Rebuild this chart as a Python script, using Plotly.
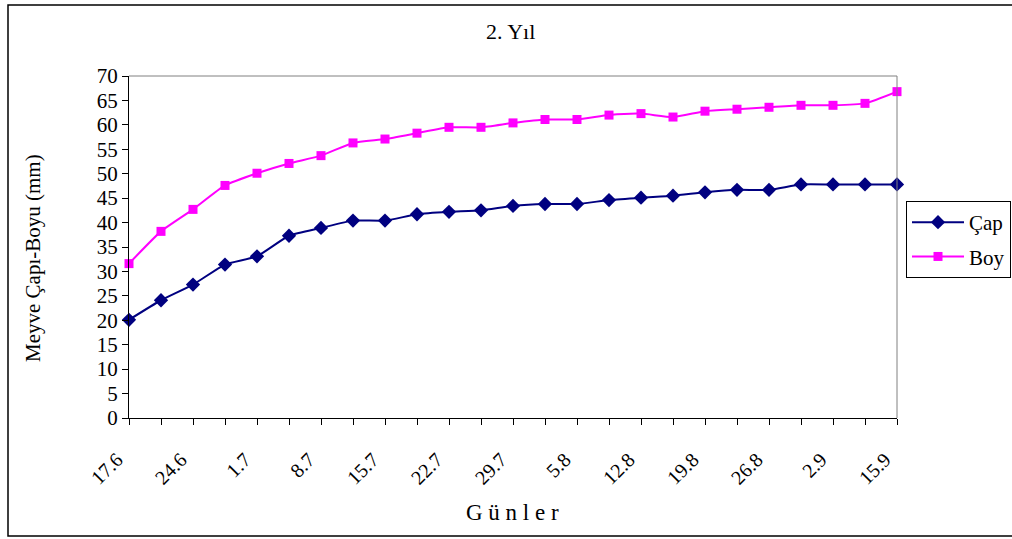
import plotly.graph_objects as go

# --- data ---
tick_labels = ["17.6", "", "24.6", "", "1.7", "", "8.7", "", "15.7", "", "22.7", "", "29.7",
               "", "5.8", "", "12.8", "", "19.8", "", "26.8", "", "2.9", "", "15.9"]
cap = [20.1, 24.1, 27.3, 31.4, 33.1, 37.3, 38.9, 40.4, 40.4, 41.7, 42.2, 42.5, 43.4,
       43.8, 43.8, 44.6, 45.1, 45.5, 46.2, 46.7, 46.7, 47.8, 47.8, 47.8, 47.8]
boy = [31.6, 38.2, 42.7, 47.6, 50.1, 52.1, 53.7, 56.3, 57.1, 58.3, 59.5, 59.5, 60.4,
       61.1, 61.1, 62.0, 62.3, 61.6, 62.8, 63.2, 63.6, 64.0, 64.0, 64.4, 66.8]
x_idx = list(range(len(tick_labels)))

FONT = "Liberation Serif, Times New Roman, serif"

fig = go.Figure()
fig.add_trace(go.Scatter(
    x=x_idx, y=cap, name="Çap", mode="lines+markers", legendgroup="a",
    line=dict(color="#000080", width=2, shape="spline", smoothing=0.5),
    marker=dict(symbol="diamond", size=11, color="#000080"),
    cliponaxis=False))
fig.add_trace(go.Scatter(
    x=x_idx, y=boy, name="Boy", mode="lines+markers", legendgroup="b",
    line=dict(color="#FF00FF", width=2, shape="spline", smoothing=0.5),
    marker=dict(symbol="square", size=9, color="#FF00FF"),
    cliponaxis=False))

W, H = 1012, 539
L, R, T, B = 129, 897, 76, 418

def px2x(px):
    return (px - L) / (R - L)

def py2y(py):
    return (B - py) / (B - T)

fig.update_layout(
    width=W, height=H,
    margin=dict(l=L, r=W - R, t=T, b=H - B, autoexpand=False),
    paper_bgcolor="white", plot_bgcolor="white",
    font=dict(family=FONT, size=21, color="black"),
    showlegend=True,
    legend=dict(x=px2x(906), y=py2y(201), xanchor="left", yanchor="top",
                bordercolor="black", borderwidth=1, bgcolor="white",
                font=dict(family=FONT, size=21), itemwidth=52,
                tracegroupgap=4),
    xaxis=dict(range=[0, len(x_idx) - 1], tickmode="array", tickvals=x_idx,
               ticktext=tick_labels, tickangle=-45, ticks="outside", ticklen=6,
               tickcolor="black", showline=True, linecolor="black", linewidth=1,
               showgrid=False, zeroline=False,
               ticklabelstandoff=15, ticklabelshift=-12,
               tickfont=dict(family=FONT, size=20)),
    yaxis=dict(range=[0, 70], dtick=5, ticks="outside", ticklen=6, tickcolor="black",
               showline=True, linecolor="black", linewidth=1, showgrid=False,
               zeroline=False, tickfont=dict(family=FONT, size=21)),
)

# plot area top/right border (gray)
fig.add_shape(type="line", xref="paper", yref="paper", x0=0, x1=1, y0=1, y1=1,
              line=dict(color="#808080", width=1))
fig.add_shape(type="line", xref="paper", yref="paper", x0=1, x1=1, y0=0, y1=1,
              line=dict(color="#808080", width=1))
# outer chart border
fig.add_shape(type="rect", xref="paper", yref="paper",
              x0=px2x(8), x1=px2x(1030), y0=py2y(536), y1=py2y(5),
              line=dict(color="black", width=1.5))

fig.add_annotation(text="2. Yıl", xref="paper", yref="paper", x=px2x(510), y=py2y(32),
                   xanchor="center", yanchor="middle",
                   showarrow=False, font=dict(family=FONT, size=22))
fig.add_annotation(text="G ü n l e r", xref="paper", yref="paper", x=px2x(512), y=py2y(512),
                   xanchor="center", yanchor="middle",
                   showarrow=False, font=dict(family=FONT, size=23))
fig.add_annotation(text="Meyve Çapı-Boyu (mm)", xref="paper", yref="paper",
                   x=px2x(33), y=py2y(258), textangle=-90,
                   xanchor="center", yanchor="middle",
                   showarrow=False, font=dict(family=FONT, size=21))

fig.write_html("out.html", config={"displayModeBar": False},
               post_script="document.body.style.margin='0';")
